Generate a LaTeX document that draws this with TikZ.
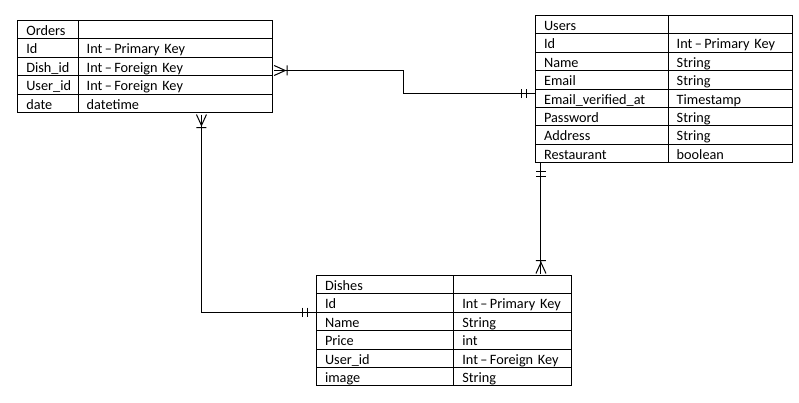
\documentclass[tikz,border=0pt]{standalone}
\usepackage{fontspec}
\setmainfont{Carlito}
\usepackage{tikz}
\usetikzlibrary{matrix}
\usetikzlibrary{calc}
% crow's foot (many) with a bar, and the double bar (one)
\pgfdeclarearrow{
  name = Crow,
  setup code = {
    \pgfarrowssettipend{0pt}
    \pgfarrowssetlineend{-1.5pt}
    \pgfarrowssetbackend{-11.25pt}
  },
  drawing code = {
    \pgfpathmoveto{\pgfqpoint{-1.5pt}{3.75pt}}
    \pgfpathlineto{\pgfqpoint{-9.75pt}{0pt}}
    \pgfpathlineto{\pgfqpoint{-1.5pt}{-3.75pt}}
    \pgfpathmoveto{\pgfqpoint{-11.25pt}{3.75pt}}
    \pgfpathlineto{\pgfqpoint{-11.25pt}{-3.75pt}}
    \pgfusepathqstroke
  }
}
\pgfdeclarearrow{
  name = TwoBar,
  setup code = {
    \pgfarrowssettipend{0pt}
    \pgfarrowssetlineend{0pt}
    \pgfarrowssetbackend{-10.25pt}
  },
  drawing code = {
    \pgfpathmoveto{\pgfqpoint{-6.5pt}{3.5pt}}
    \pgfpathlineto{\pgfqpoint{-6.5pt}{-3.5pt}}
    \pgfpathmoveto{\pgfqpoint{-10.25pt}{3.5pt}}
    \pgfpathlineto{\pgfqpoint{-10.25pt}{-3.5pt}}
    \pgfusepathqstroke
  }
}
\newcommand\keytype[1]{\mbox{Int\,–\,#1~Key}}
\tikzset{
  % node options
  cell/.style={draw,line width=0.75pt,outer sep=0pt,inner xsep=6.4pt,inner ysep=0pt,
    minimum height=13.8pt,text height=9.2pt,text depth=0.5pt,align=left,
    font=\fontsize{10.7}{13}\selectfont},
  entity/.style={matrix of nodes,nodes in empty cells,nodes={cell},
    row sep=-0.75pt,column sep=-0.75pt,inner sep=0pt,outer sep=0pt,anchor=north west},
  % path options
  relation/.style={{Crow}-{TwoBar},line width=0.75pt},
}
\begin{document}
\begin{tikzpicture}[x=0.75pt,y=-0.75pt]
  \useasboundingbox (0,0) rectangle (799,403);
  \matrix (orders) [entity,
      column 1/.style={nodes={text width=32.5pt}},
      column 2/.style={nodes={text width=132.7pt}}] at (17.3,20) {
    Orders & \\
    Id & \keytype{Primary} \\
    Dish\_id & \keytype{Foreign} \\
    User\_id & \keytype{Foreign} \\
    date & datetime \\
  };
  \matrix (users) [entity,
      column 1/.style={nodes={text width=86.7pt}},
      column 2/.style={nodes={text width=80.2pt}}] at (535,15) {
    Users & \\
    Id & \keytype{Primary} \\
    Name & String \\
    Email & String \\
    Email\_verified\_at & Timestamp \\
    Password & String \\
    Address & String \\
    Restaurant & boolean \\
  };
  \matrix (dishes) [entity,
      column 1/.style={nodes={text width=90.2pt}},
      column 2/.style={nodes={text width=75.2pt}}] at (316,275) {
    Dishes & \\
    Id & \keytype{Primary} \\
    Name & String \\
    Price & int \\
    User\_id & \keytype{Foreign} \\
    image & String \\
  };
  \coordinate (usersfoot) at ([xshift=4.1pt]users-8-1.south west);
  \draw[relation] ([yshift=-3pt]orders-3-2.east)
    -| ($(orders-3-2.east)!.5!(users-5-1.west)$) |- ([yshift=3.4pt]users-5-1.west);
  \draw[relation] ([xshift=19.7pt]orders-5-2.south) |- (dishes-2-1.south west);
  \draw[relation] (usersfoot |- dishes-1-1.north) -- (usersfoot);
\end{tikzpicture}
\end{document}
